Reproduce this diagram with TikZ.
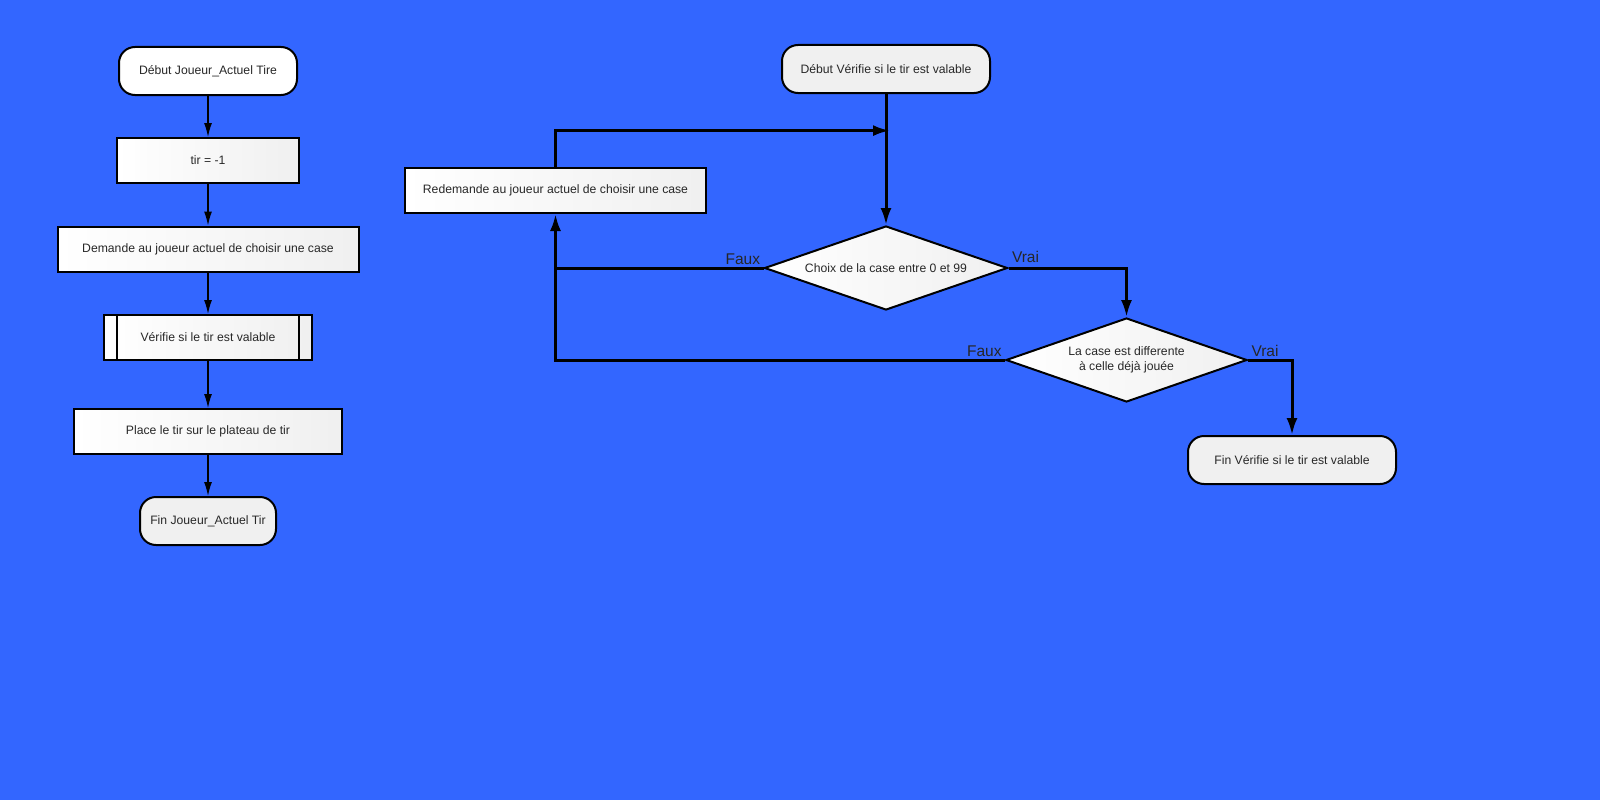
\documentclass[tikz,border=0pt]{standalone}
\usepackage{fontspec}
\setmainfont{Liberation Sans}
\usetikzlibrary{shapes.geometric,arrows.meta}
\definecolor{fondbleu}{RGB}{51,102,255}
\definecolor{gristxt}{RGB}{40,40,40}

\begin{document}
\begin{tikzpicture}[x=1pt,y=-1pt]
    \tikzset{>={Latex[length=14pt,width=8pt]}}
    \tikzset{
      texte/.style={font=\fontsize{12.2}{15}\selectfont, text=gristxt, inner sep=0pt},
      terme/.style={texte, draw, line width=2pt, rounded corners=16pt, fill=gray!12, minimum width=#1, minimum height=48pt},
      boite/.style={texte, draw, line width=2pt, left color=white, right color=gray!12, minimum width=#1, minimum height=45pt},
      losange/.style={texte, draw, diamond, aspect=2.9, align=center, line width=2pt, left color=white, right color=gray!12, minimum width=#1, minimum height=84pt},
      mince/.style={->, line width=1.3pt},
      epais/.style={line width=3pt, >={Latex[length=17pt,width=11pt]}},
      etiq/.style={font=\fontsize{15.5}{18}\selectfont, text=black!85, inner sep=2pt}
    }
    \useasboundingbox (0,0) rectangle (1600,800);
    \fill[fondbleu] (0,0) rectangle (1600,800);
    % Joueur_Actuel Tire
    \node[terme=178pt, fill=white] (debutA) at (208,71) {Début Joueur\_Actuel Tire};
    \node[boite=182pt] (tir) at (208,160.5) {tir = -1};
    \node[boite=301pt] (demande) at (208,249) {Demande au joueur actuel de choisir une case};
    \node[boite=208pt] (verifie) at (208,337.5) {Vérifie si le tir est valable};
    \draw[line width=2pt] ([xshift=14pt]verifie.north west) -- ([xshift=14pt]verifie.south west);
    \draw[line width=2pt] ([xshift=-14pt]verifie.north east) -- ([xshift=-14pt]verifie.south east);
    \node[boite=268pt] (place) at (208,431.5) {Place le tir sur le plateau de tir};
    \node[terme=136pt] (finA) at (208,521) {Fin Joueur\_Actuel Tir};
    \draw[mince] (debutA) -- (tir);
    \draw[mince] (tir) -- (demande);
    \draw[mince] (demande) -- (verifie);
    \draw[mince] (verifie) -- (place);
    \draw[mince] (place) -- (finA);
    % Verifie si le tir est valable
    \node[terme=208pt] (debutV) at (886,69) {Début Vérifie si le tir est valable};
    \node[boite=301pt] (redemande) at (555.5,190.5) {Redemande au joueur actuel de choisir une case};
    \node[losange=243pt] (choix) at (886,268) {Choix de la case entre 0 et 99};
    \node[losange=241pt] (differente) at (1126.5,360) {La case est differente\\à celle déjà jouée};
    \node[terme=208pt] (finV) at (1292,460) {Fin Vérifie si le tir est valable};
    \coordinate (retour) at (890,130.6);
    \draw[epais,->] (debutV) -- (choix);
    \draw[epais,->] (redemande.north) |- (retour);
    \draw[epais] (choix.west) node[etiq, anchor=south east] {Faux} -- (choix.west -| redemande.south);
    \draw[epais,->] (differente.west) node[etiq, anchor=south east] {Faux} -| (redemande.south);
    \draw[epais,->] (choix.east) node[etiq, anchor=south west, yshift=2pt] {Vrai} -| (differente.north);
    \draw[epais,->] (differente.east) node[etiq, anchor=south west] {Vrai} -| (finV.north);
\end{tikzpicture}
\end{document}
